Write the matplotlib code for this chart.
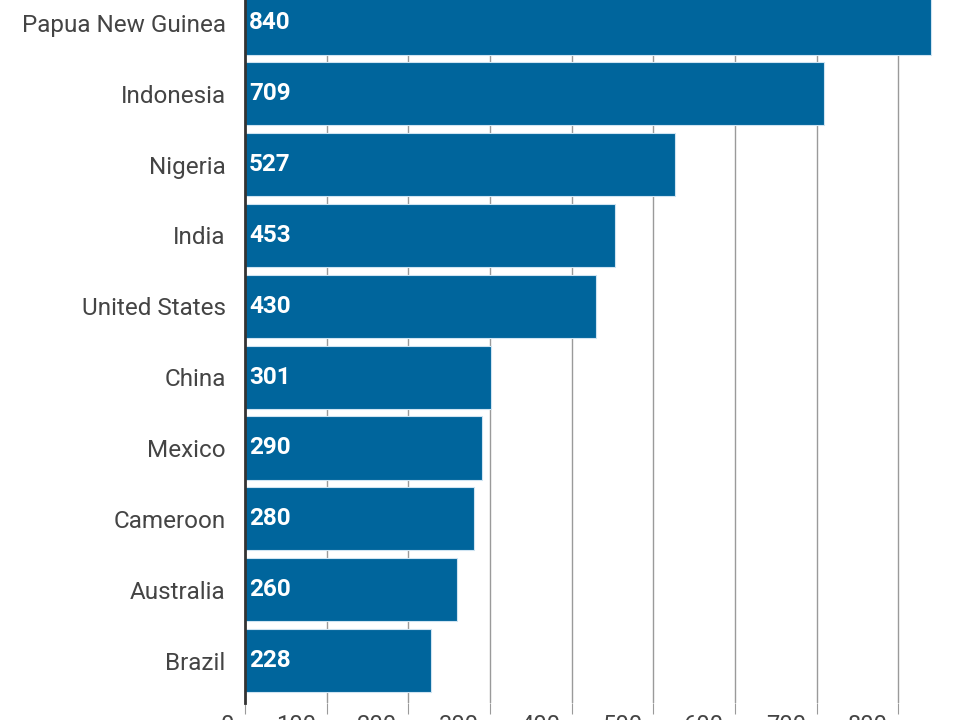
import matplotlib
matplotlib.use('Agg')
import matplotlib.pyplot as plt
import matplotlib.transforms as mtransforms

countries = ['Papua New Guinea', 'Indonesia', 'Nigeria', 'India', 'United States',
             'China', 'Mexico', 'Cameroon', 'Australia', 'Brazil']
values = [840, 709, 527, 453, 430, 301, 290, 280, 260, 228]
x_ticks = [0, 100, 200, 300, 400, 500, 600, 700, 800]

plt.rcParams['font.family'] = ['Roboto', 'DejaVu Sans']

fig = plt.figure(figsize=(9.6, 7.2), dpi=100)
ax = fig.add_axes([245 / 960, 1 - 703 / 720, 735 / 960, 722.5 / 720])

pos = list(range(len(countries)))[::-1]
ax.barh(pos, values, height=0.89, color='#00659c', edgecolor='#cfe4f2',
        linewidth=0.8, zorder=3)

# value labels inside the bars
for p, v in zip(pos, values):
    ax.text(5, p, str(v), color='white', fontsize=17.5, fontweight='bold',
            va='center', ha='left', zorder=4)

ax.set_xlim(0, 900)
ax.set_ylim(-0.6, 9.6)
ax.set_yticks(pos)
ax.set_yticklabels(countries)
ax.set_xticks(x_ticks)
ax.set_xticklabels([str(t) for t in x_ticks])

ax.xaxis.grid(True, color='#9a9a9a', linewidth=1, zorder=0)
ax.yaxis.grid(False)

for s in ['top', 'right', 'bottom']:
    ax.spines[s].set_visible(False)
ax.spines['left'].set_color('#333333')
ax.spines['left'].set_linewidth(2)
ax.spines['left'].set_zorder(5)

ax.tick_params(axis='y', length=0, pad=14, labelsize=17.5, labelcolor='#444444')
ax.tick_params(axis='x', length=8, color='#9a9a9a', pad=0, labelsize=17,
               labelcolor='#444444')

offset = mtransforms.ScaledTranslation(-11 / 100, 0, fig.dpi_scale_trans)
for lab in ax.get_xticklabels():
    lab.set_ha('right')
    lab.set_transform(lab.get_transform() + offset)

fig.savefig('out.png', dpi=100)
